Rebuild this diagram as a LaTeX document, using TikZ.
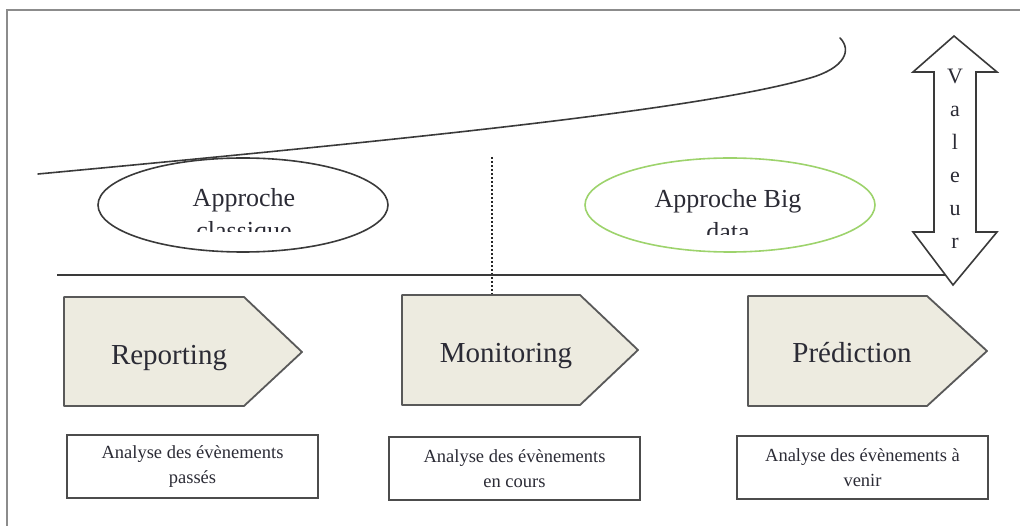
\documentclass[tikz,border=0pt]{standalone}
\usepackage{fontspec}
\setmainfont{Liberation Serif}
\usetikzlibrary{shapes.geometric}
\definecolor{txt}{HTML}{2B2B35}
\definecolor{penfill}{HTML}{EDEBE0}
\definecolor{bdgreen}{HTML}{9DD36C}
\definecolor{lineg}{HTML}{3A3A3A}
\begin{document}
\begin{tikzpicture}[x=1pt,y=-1pt,
  frame/.style={draw=black!45,line width=2pt},
  edge/.style={draw=lineg,line width=1.6pt},
  pent/.style={draw=black!65,line width=1.8pt,fill=penfill,line join=round},
  biglbl/.style={font=\fontsize{29}{33}\selectfont,text=txt,anchor=base,inner sep=0pt},
  elllbl/.style={font=\fontsize{26}{30}\selectfont,text=txt,anchor=base,inner sep=0pt},
  vlbl/.style={font=\fontsize{22}{24}\selectfont,text=txt,anchor=base,inner sep=0pt},
  evbox/.style={draw=black!70,line width=1.8pt,minimum width=251pt,minimum height=63pt,
    font=\fontsize{18.5}{25}\selectfont,text=txt,align=center,inner sep=0pt},
  ovalbox/.style={ellipse,line width=1.6pt,minimum width=290pt,minimum height=94pt,inner sep=0pt},
  dotline/.style={draw=black!85,line width=2.6pt,dash pattern=on 2pt off 2pt}
]
\useasboundingbox (0,0) rectangle (1020,526);
% frame
\draw[frame] (7,526) -- (7,10) -- (1020,10);

% value curve
\coordinate (c0) at (38,174);
\coordinate (c1) at (810,78);
\coordinate (c2) at (840,38);
\draw[edge,line cap=round] (c0) .. controls (400,140) and (700,110) .. (c1)
   .. controls (845,68) and (852,50) .. (c2);

% ellipses
\node[ovalbox,draw=lineg] (eclass) at (243,205) {};
\node[ovalbox,draw=bdgreen] (ebig) at (730,205) {};
\begin{scope}
  \clip (90,140) rectangle (400,232);
  \node[elllbl] (tclass1) at (244,207) {Approche};
  \node[elllbl] (tclass2) at (244,240) {classique};
\end{scope}
\begin{scope}
  \clip (580,140) rectangle (880,235);
  \node[elllbl] (tbig1) at (728,208) {Approche Big};
  \node[elllbl] (tbig2) at (728,241) {data};
\end{scope}

% dotted separator
\coordinate (d0) at (492,157);
\coordinate (d1) at (492,298);
\draw[dotline] (d0) -- (d1);

% double arrow Valeur
\draw[edge,fill=white,line join=miter] (954,36) -- (997,72) -- (976,72) -- (976,232) -- (997,232)
  -- (953,285) -- (913,232) -- (934,232) -- (934,72) -- (913,72) -- cycle;
\node[vlbl] (v1) at (955,84) {V};
\node[vlbl] (v2) at (955,117) {a};
\node[vlbl] (v3) at (955,150) {l};
\node[vlbl] (v4) at (955,183) {e};
\node[vlbl] (v5) at (955,216) {u};
\node[vlbl] (v6) at (955,249) {r};

% baseline
\coordinate (h0) at (57,275);
\coordinate (h1) at (945,275);
\draw[edge] (h0) -- (h1);

% pentagons
\draw[pent] (64,297) -- (244,297) -- (302,352) -- (244,406) -- (64,406) -- cycle;
\draw[pent] (402,295) -- (580,295) -- (638,350) -- (580,405) -- (402,405) -- cycle;
\draw[pent] (748,296) -- (927,296) -- (987,351) -- (927,406) -- (748,406) -- cycle;
\node[biglbl] (rep) at (169,365) {Reporting};
\node[biglbl] (mon) at (506,363) {Monitoring};
\node[biglbl] (pre) at (852,363) {Prédiction};

% event boxes
\node[evbox] (b1) at (192.5,466.5) {Analyse des évènements\\passés};
\node[evbox] (b2) at (514.5,468.5) {Analyse des évènements\\en cours};
\node[evbox] (b3) at (862.5,467.5) {Analyse des évènements à\\venir};
\end{tikzpicture}
\end{document}
